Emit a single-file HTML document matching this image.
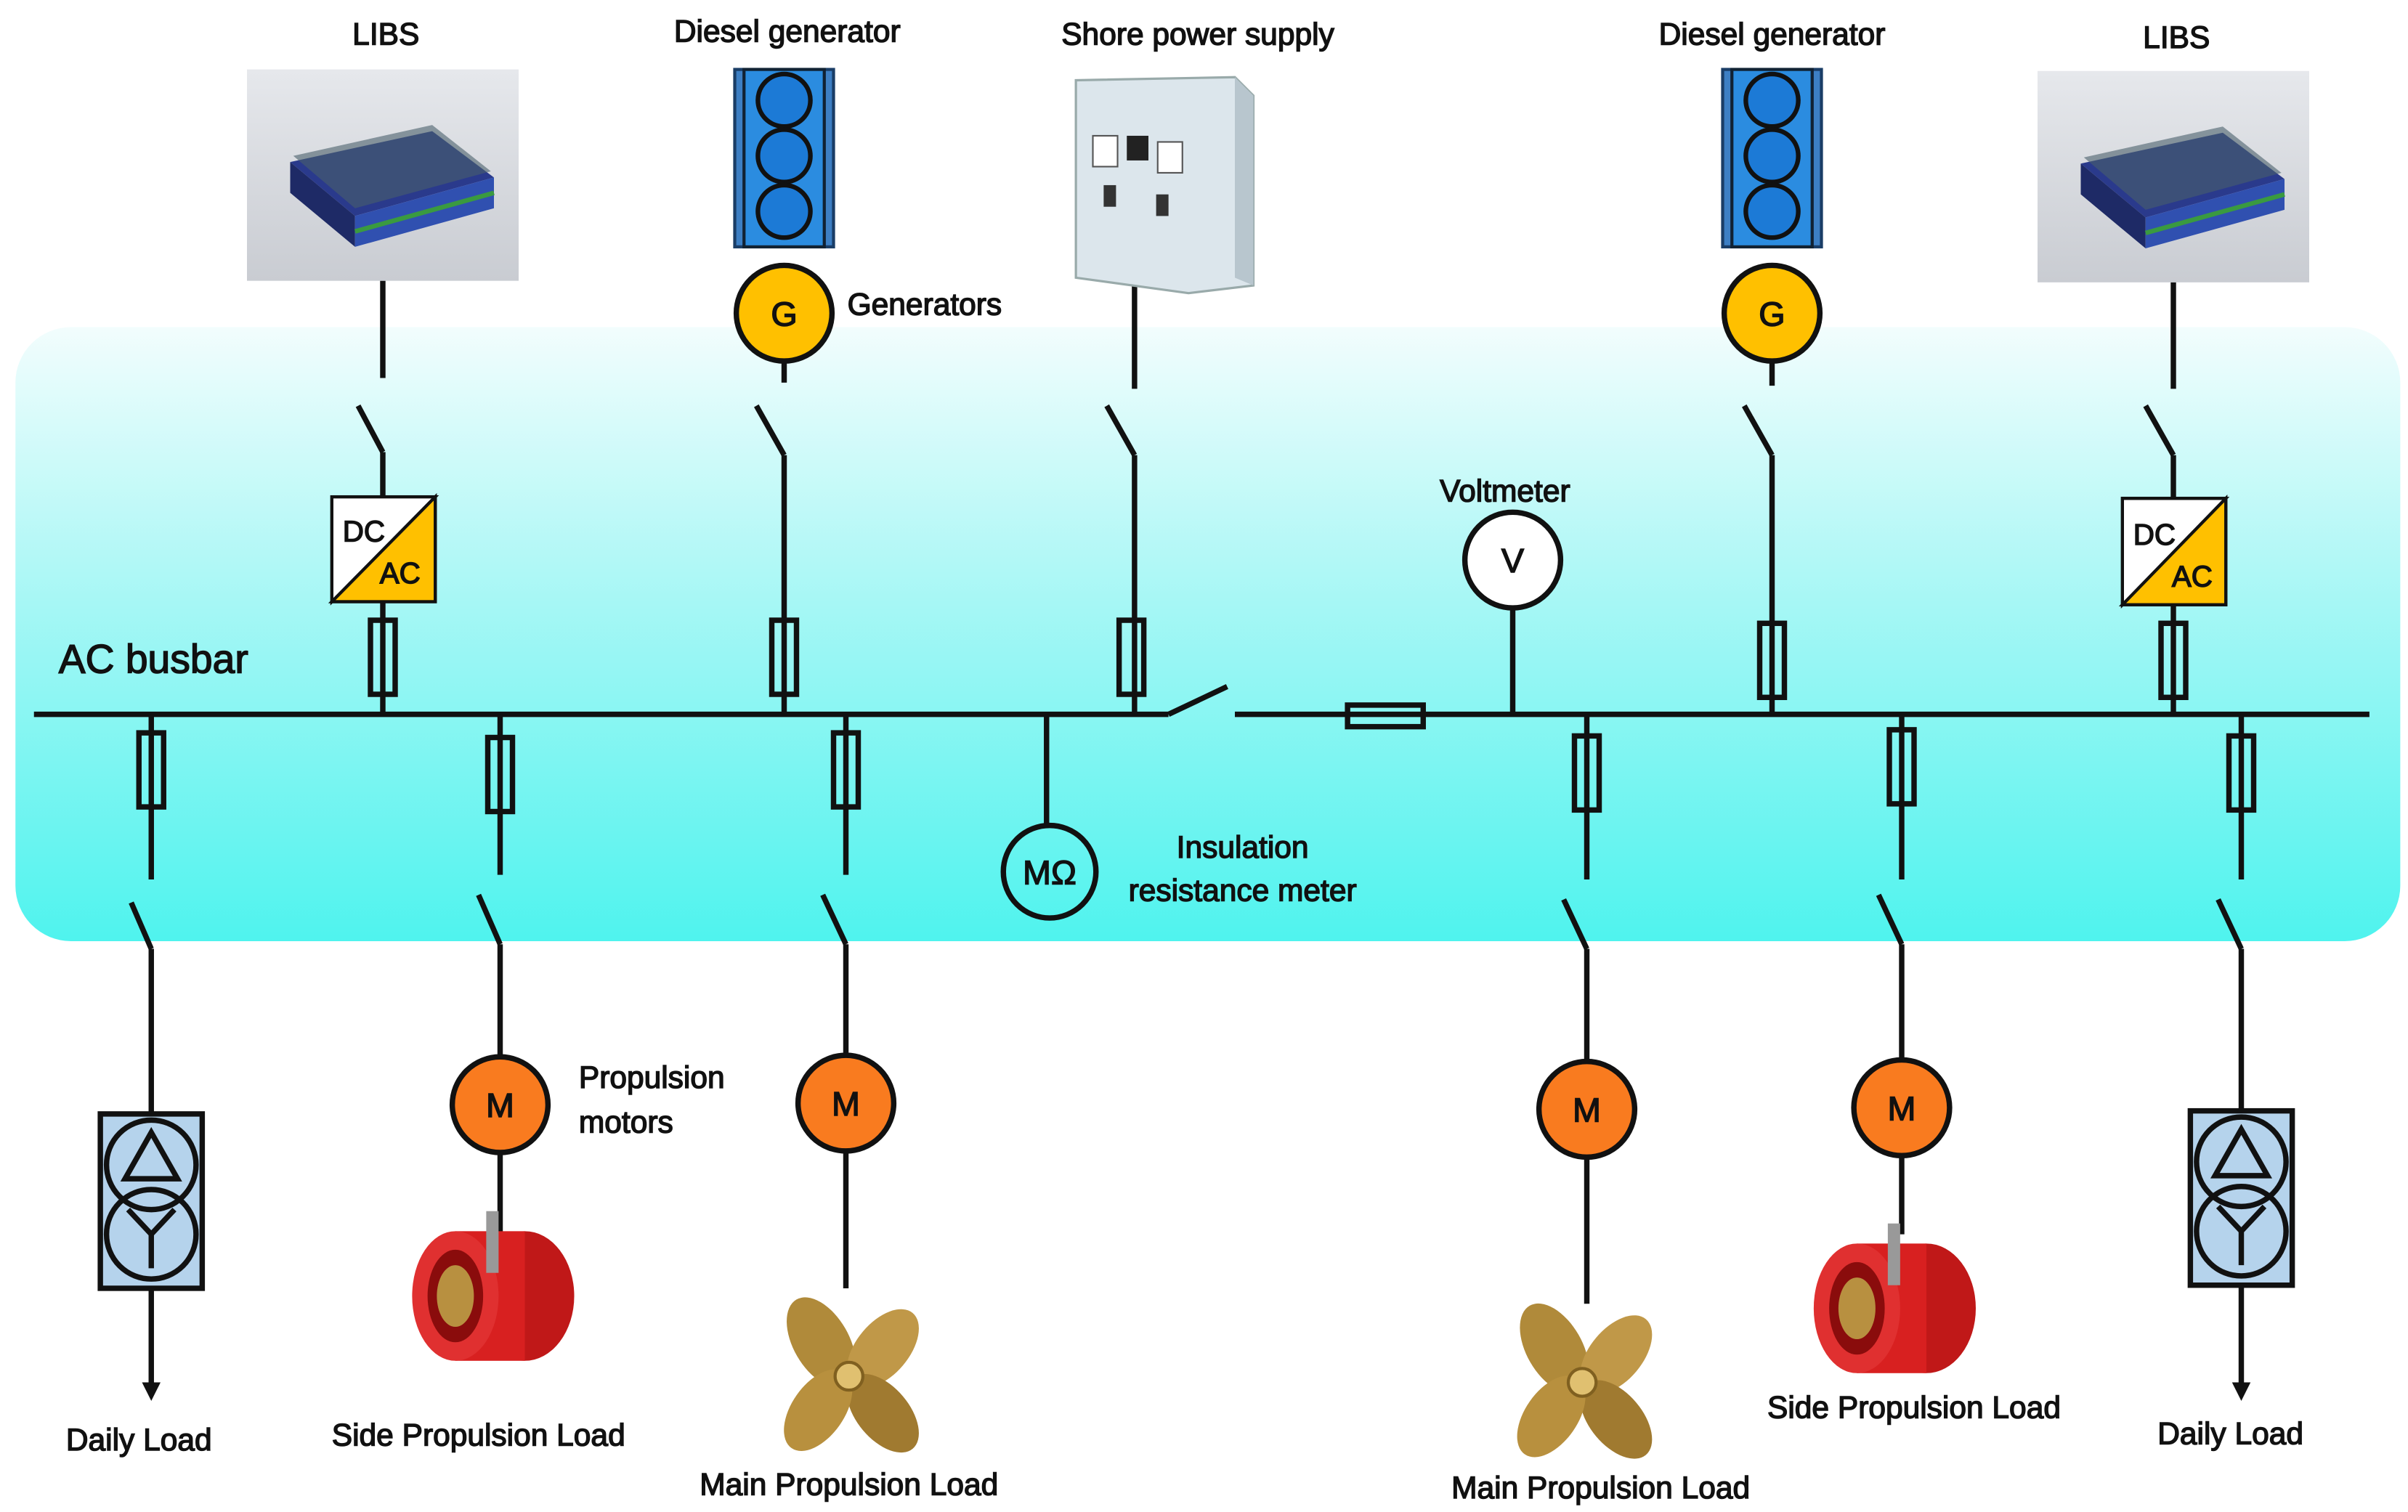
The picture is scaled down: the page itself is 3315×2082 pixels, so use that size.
<!DOCTYPE html>
<html><head><meta charset="utf-8"><style>
html,body{margin:0;padding:0;background:#fff}
svg{display:block}
text{font-family:"Liberation Sans",sans-serif;fill:#111;stroke:#111;stroke-width:0.7}
</style></head><body>
<svg width="3315" height="2082" viewBox="0 0 1560 980" preserveAspectRatio="none" xmlns="http://www.w3.org/2000/svg">
<defs>
<linearGradient id="bg" x1="0" y1="0" x2="0" y2="1">
<stop offset="0" stop-color="#f2fdfd"/><stop offset="0.45" stop-color="#a6f7f5"/><stop offset="1" stop-color="#4ff3ee"/>
</linearGradient>
<linearGradient id="bat" x1="0" y1="0" x2="0" y2="1">
<stop offset="0" stop-color="#e6e8ec"/><stop offset="1" stop-color="#c9ccd2"/>
</linearGradient>
<g id="fuseV"><rect x="-8" y="0" width="16" height="48" fill="none" stroke="#111" stroke-width="3.5"/></g>
<g id="engine">
<rect x="-32" y="0" width="64" height="115" fill="#3d7fc4" stroke="#1a3d66" stroke-width="2"/>
<rect x="-26" y="0" width="52" height="115" fill="#2b8ce0" stroke="#123" stroke-width="2"/>
<circle cx="0" cy="20" r="17" fill="#1c7ad6" stroke="#111" stroke-width="3"/>
<circle cx="0" cy="56" r="17" fill="#1c7ad6" stroke="#111" stroke-width="3"/>
<circle cx="0" cy="92" r="17" fill="#1c7ad6" stroke="#111" stroke-width="3"/>
</g>
<g id="battery">
<rect x="0" y="0" width="176" height="137" fill="url(#bat)"/>
<polygon points="28,60 120,40 160,70 70,95" fill="#2a3a8c"/>
<polygon points="28,60 70,95 70,115 28,80" fill="#1e2a66"/>
<polygon points="70,95 160,70 160,90 70,115" fill="#3050b0"/>
<polygon points="30,56 120,36 158,66 70,90" fill="#4a5f6a" opacity="0.6"/>
<line x1="70" y1="105" x2="160" y2="80" stroke="#3a9a40" stroke-width="3"/>
</g>
<g id="trafo">
<rect x="-33" y="0" width="66" height="113" fill="#b5d3ec" stroke="#111" stroke-width="3.5"/>
<circle cx="0" cy="33" r="29" fill="none" stroke="#111" stroke-width="3.5"/>
<circle cx="0" cy="78" r="29" fill="none" stroke="#111" stroke-width="3.5"/>
<polygon points="0,12 -17,42 17,42" fill="none" stroke="#111" stroke-width="3.5"/>
<path d="M-15,62 L0,78 L15,62 M0,78 L0,100" fill="none" stroke="#111" stroke-width="3.5"/>
</g>
<g id="prop">
<ellipse cx="-18" cy="-22" rx="18" ry="32" transform="rotate(-30 -18 -22)" fill="#b08a3a"/>
<ellipse cx="22" cy="-18" rx="17" ry="30" transform="rotate(40 22 -18)" fill="#c09848"/>
<ellipse cx="22" cy="24" rx="17" ry="30" transform="rotate(-40 22 24)" fill="#a07a30"/>
<ellipse cx="-20" cy="22" rx="17" ry="30" transform="rotate(35 -20 22)" fill="#b8903e"/>
<circle r="9" fill="#e0c070" stroke="#806020" stroke-width="2"/>
</g>
<g id="thruster">
<ellipse cx="20" cy="0" rx="32" ry="42" fill="#c01818"/>
<rect x="-25" y="-42" width="45" height="84" fill="#d82020"/>
<ellipse cx="-25" cy="0" rx="28" ry="42" fill="#e03030"/>
<ellipse cx="-25" cy="0" rx="18" ry="30" fill="#8a0c0c"/>
<ellipse cx="-25" cy="0" rx="12" ry="20" fill="#b89040"/>
<rect x="-5" y="-55" width="8" height="40" fill="#999"/>
</g>
</defs>

<rect x="10" y="212" width="1545" height="398" rx="36" fill="url(#bg)"/>

<g stroke="#111" stroke-width="3.5" fill="none">
<line x1="22" y1="463" x2="757" y2="463"/>
<line x1="757" y1="463" x2="795" y2="445"/>
<line x1="800" y1="463" x2="1535" y2="463"/>
<rect x="873" y="457" width="49" height="14" fill="none"/>

<line x1="248" y1="182" x2="248" y2="245"/>
<line x1="232" y1="263" x2="248" y2="293"/>
<line x1="248" y1="293" x2="248" y2="322"/>
<line x1="248" y1="390" x2="248" y2="463"/>
<line x1="508" y1="234" x2="508" y2="248"/>
<line x1="490" y1="263" x2="508" y2="295"/>
<line x1="508" y1="295" x2="508" y2="463"/>
<line x1="735" y1="185" x2="735" y2="252"/>
<line x1="717" y1="263" x2="735" y2="295"/>
<line x1="735" y1="295" x2="735" y2="463"/>
<line x1="1148" y1="234" x2="1148" y2="250"/>
<line x1="1130" y1="263" x2="1148" y2="295"/>
<line x1="1148" y1="295" x2="1148" y2="463"/>
<line x1="1408" y1="183" x2="1408" y2="252"/>
<line x1="1390" y1="263" x2="1408" y2="295"/>
<line x1="1408" y1="295" x2="1408" y2="323"/>
<line x1="1408" y1="392" x2="1408" y2="463"/>
<line x1="980" y1="394" x2="980" y2="463"/>
<line x1="678" y1="463" x2="678" y2="535"/>

<line x1="98" y1="463" x2="98" y2="570"/>
<line x1="85" y1="585" x2="98" y2="615"/>
<line x1="98" y1="615" x2="98" y2="722"/>
<line x1="98" y1="835" x2="98" y2="900"/>

<line x1="324" y1="463" x2="324" y2="567"/>
<line x1="310" y1="580" x2="324" y2="612"/>
<line x1="324" y1="612" x2="324" y2="800"/>

<line x1="548" y1="463" x2="548" y2="567"/>
<line x1="533" y1="580" x2="548" y2="612"/>
<line x1="548" y1="612" x2="548" y2="835"/>

<line x1="1028" y1="463" x2="1028" y2="570"/>
<line x1="1013" y1="583" x2="1028" y2="615"/>
<line x1="1028" y1="615" x2="1028" y2="845"/>

<line x1="1232" y1="463" x2="1232" y2="570"/>
<line x1="1217" y1="580" x2="1232" y2="612"/>
<line x1="1232" y1="612" x2="1232" y2="800"/>

<line x1="1452" y1="463" x2="1452" y2="570"/>
<line x1="1437" y1="583" x2="1452" y2="615"/>
<line x1="1452" y1="615" x2="1452" y2="720"/>
<line x1="1452" y1="833" x2="1452" y2="900"/>
</g>
<polygon points="92,896 104,896 98,908" fill="#111"/>
<polygon points="1446,896 1458,896 1452,908" fill="#111"/>

<g>
<use href="#fuseV" x="248" y="402"/>
<use href="#fuseV" x="508" y="402"/>
<use href="#fuseV" x="733" y="402"/>
<use href="#fuseV" x="1148" y="404"/>
<use href="#fuseV" x="1408" y="404"/>
<use href="#fuseV" x="98" y="475"/>
<use href="#fuseV" x="324" y="478"/>
<use href="#fuseV" x="548" y="475"/>
<use href="#fuseV" x="1028" y="477"/>
<use href="#fuseV" x="1232" y="473"/>
<use href="#fuseV" x="1452" y="477"/>
</g>

<g stroke="#111" stroke-width="2">
<polygon points="215,322 282,322 215,390" fill="#fff"/>
<polygon points="282,322 282,390 215,390" fill="#ffc000"/>
<rect x="215" y="322" width="67" height="68" fill="none"/>
<polygon points="1375,323 1442,323 1375,392" fill="#fff"/>
<polygon points="1442,323 1442,392 1375,392" fill="#ffc000"/>
<rect x="1375" y="323" width="67" height="69" fill="none"/>
</g>
<text x="222" y="351" font-size="19">DC</text>
<text x="246" y="378" font-size="19">AC</text>
<text x="1382" y="353" font-size="19">DC</text>
<text x="1407" y="380" font-size="19">AC</text>

<use href="#battery" x="160" y="45"/>
<use href="#battery" x="1320" y="46"/>
<use href="#engine" x="508" y="45"/>
<use href="#engine" x="1148" y="45"/>
<polygon points="697,52 800,50 812,62 812,185 770,190 697,180" fill="#dce6ec" stroke="#9aa" stroke-width="1.5"/>
<polygon points="800,50 812,62 812,185 800,180" fill="#b8c6ce"/>
<rect x="708" y="88" width="16" height="20" fill="#fff" stroke="#555"/>
<rect x="730" y="88" width="14" height="16" fill="#222"/>
<rect x="750" y="92" width="16" height="20" fill="#fff" stroke="#555"/>
<rect x="715" y="120" width="8" height="14" fill="#333"/>
<rect x="749" y="126" width="8" height="14" fill="#333"/>

<g stroke="#111" stroke-width="3.5">
<circle cx="508" cy="203" r="31" fill="#ffc000"/>
<circle cx="1148" cy="203" r="31" fill="#ffc000"/>
<circle cx="980" cy="363" r="31" fill="#fff"/>
<circle cx="680" cy="565" r="30" fill="none"/>
<circle cx="324" cy="716" r="31" fill="#f97b1f"/>
<circle cx="548" cy="715" r="31" fill="#f97b1f"/>
<circle cx="1028" cy="719" r="31" fill="#f97b1f"/>
<circle cx="1232" cy="718" r="31" fill="#f97b1f"/>
</g>
<g font-size="22" text-anchor="middle">
<text x="508" y="211">G</text>
<text x="1148" y="211">G</text>
<text x="980" y="371">V</text>
<text x="680" y="573">MΩ</text>
<text x="324" y="724">M</text>
<text x="548" y="723">M</text>
<text x="1028" y="727">M</text>
<text x="1232" y="726">M</text>
</g>

<use href="#trafo" x="98" y="722"/>
<use href="#trafo" x="1452" y="720"/>
<use href="#thruster" x="320" y="840"/>
<use href="#thruster" x="1228" y="848"/>
<use href="#prop" x="550" y="892"/>
<use href="#prop" x="1025" y="896"/>

<g font-size="20" text-anchor="middle">
<text x="250" y="29">LIBS</text>
<text x="510" y="27">Diesel generator</text>
<text x="776" y="29">Shore power supply</text>
<text x="1148" y="29">Diesel generator</text>
<text x="1410" y="31">LIBS</text>
<text x="975" y="325">Voltmeter</text>
<text x="90" y="940">Daily Load</text>
<text x="310" y="937">Side Propulsion Load</text>
<text x="550" y="969">Main Propulsion Load</text>
<text x="1037" y="971">Main Propulsion Load</text>
<text x="1240" y="919">Side Propulsion Load</text>
<text x="1445" y="936">Daily Load</text>
<text x="805" y="556">Insulation</text>
<text x="805" y="584">resistance meter</text>
</g>
<g font-size="20">
<text x="549" y="204">Generators</text>
<text x="375" y="705">Propulsion</text>
<text x="375" y="734">motors</text>
</g>
<text x="38" y="436" font-size="26">AC busbar</text>
</svg>
</body></html>
